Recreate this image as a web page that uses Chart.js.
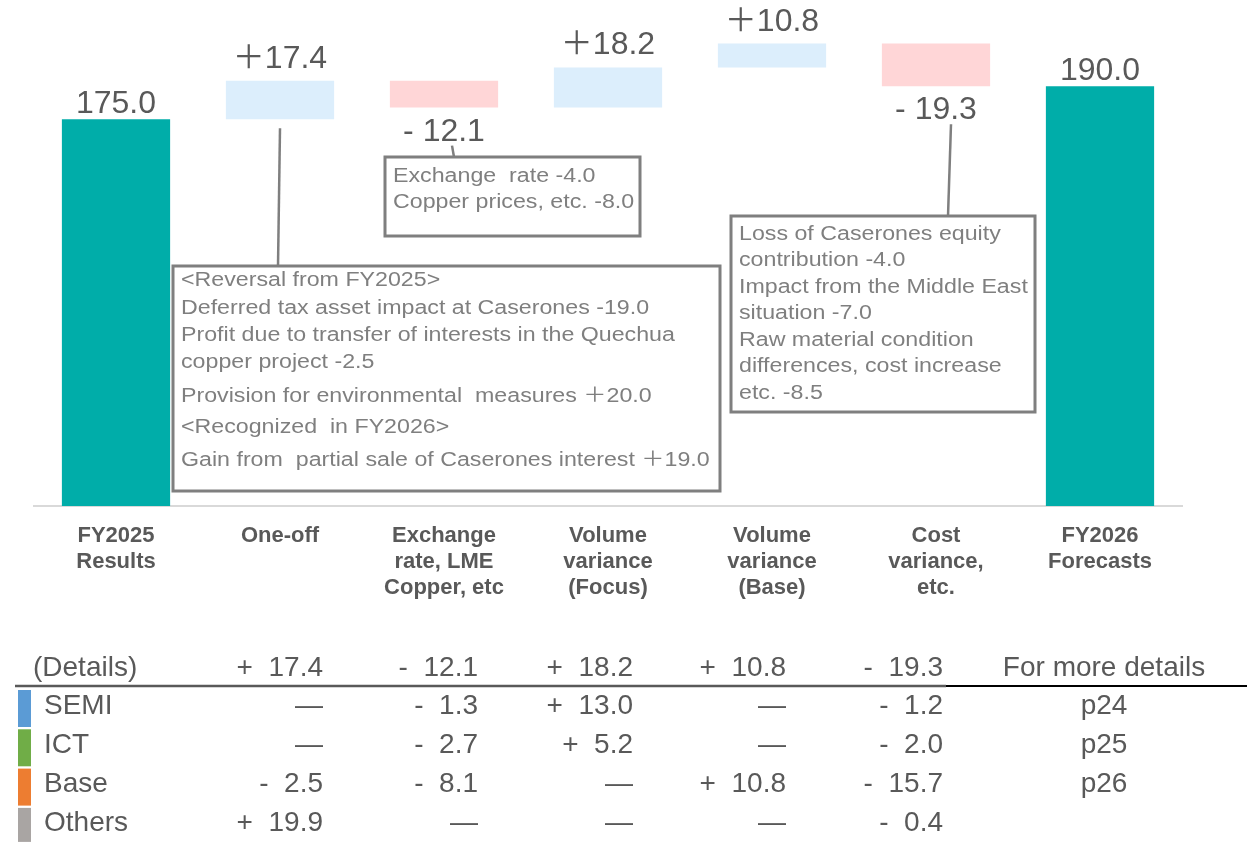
<!DOCTYPE html>
<html>
<head>
<meta charset="utf-8">
<script src="https://cdn.jsdelivr.net/npm/chart.js@4/dist/chart.umd.min.js"></script>
<style>
  html, body { margin: 0; padding: 0; background: #ffffff; }
  canvas { display: block; }
</style>
</head>
<body>
<canvas id="bridge" width="1247" height="842"></canvas>
<script>
// Operating profit bridge, FY2025 results -> FY2026 forecasts
const categories = [
  ["FY2025", "Results"],
  ["One-off"],
  ["Exchange", "rate, LME", "Copper, etc"],
  ["Volume", "variance", "(Focus)"],
  ["Volume", "variance", "(Base)"],
  ["Cost", "variance,", "etc."],
  ["FY2026", "Forecasts"]
];
const values  = [175.0, 17.4, -12.1, 18.2, 10.8, -19.3, 190.0];
const isTotal = [true, false, false, false, false, false, true];

// Breakdown of each variance by segment (columns: the five variance steps)
const segments     = ["SEMI", "ICT", "Base", "Others"];
const semiDetail   = [null, -1.3, 13.0, null, -1.2];
const ictDetail    = [null, -2.7, 5.2, null, -2.0];
const baseDetail   = [-2.5, -8.1, null, 10.8, -15.7];
const othersDetail = [19.9, null, null, null, -0.4];
const detailPages  = ["p24", "p25", "p26", ""];

// Callout notes
const oneOffNotes = [
  "<Reversal from FY2025>",
  "Deferred tax asset impact at Caserones -19.0",
  "Profit due to transfer of interests in the Quechua",
  "copper project -2.5",
  "Provision for environmental  measures \uFF0B20.0",
  "<Recognized  in FY2026>",
  "Gain from  partial sale of Caserones interest \uFF0B19.0"
];
const exchangeNotes = [
  "Exchange  rate -4.0",
  "Copper prices, etc. -8.0"
];
const costNotes = [
  "Loss of Caserones equity",
  "contribution -4.0",
  "Impact from the Middle East",
  "situation -7.0",
  "Raw material condition",
  "differences, cost increase",
  "etc. -8.5"
];

// ---- derived: floating ranges for the waterfall ----
const ranges = [];
let running = 0;
values.forEach((v, i) => {
  if (isTotal[i]) { ranges.push([0, v]); running = v; }
  else { const start = running; running = +(running + v).toFixed(1); ranges.push([start, running]); }
});

const FONT = "'Liberation Sans', Arial, 'Noto Sans CJK JP', sans-serif";
const TEXT = '#595959';
const NOTE = '#7F7F7F';
const barColors = values.map((v, i) => isTotal[i] ? '#00ADA9' : (v >= 0 ? '#DCEEFC' : '#FFD6D7'));
const segmentColors = ['#5B9BD5', '#70AD47', '#ED7D31', '#A9A5A3'];

function signed(v) {
  return (v >= 0 ? '+' : '-') + '  ' + Math.abs(v).toFixed(1);
}

// text drawn with a slight horizontal stretch (callout typeface is set wide)
function wideText(ctx, text, x, y, sx) {
  ctx.save();
  ctx.translate(x, y);
  ctx.scale(sx, 1);
  ctx.fillText(text, 0, 0);
  ctx.restore();
}

const callouts = [
  { index: 1, notes: oneOffNotes,   box: [173, 266, 720, 491], lines: [20, 48, 75, 102, 136, 167, 200], from: 'under-bar', dx0: 0,  dx1: -2 },
  { index: 2, notes: exchangeNotes, box: [385, 157, 640, 236], lines: [25, 51],                          from: 'under-label', dx0: 8, dx1: 10 },
  { index: 5, notes: costNotes,     box: [731, 216, 1035, 412], lines: [24, 50, 77, 103, 130, 156, 183], from: 'under-label', dx0: 15, dx1: 12 }
];

const bridgeDecor = {
  id: 'bridgeDecor',
  afterDatasetsDraw(chart) {
    const ctx = chart.ctx;
    const bars = chart.getDatasetMeta(0).data;
    ctx.save();

    // value labels
    ctx.font = `32px ${FONT}`;
    ctx.fillStyle = TEXT;
    ctx.textAlign = 'center';
    ctx.textBaseline = 'alphabetic';
    bars.forEach((bar, i) => {
      const top = Math.min(bar.y, bar.base), bottom = Math.max(bar.y, bar.base);
      const v = values[i];
      if (isTotal[i]) ctx.fillText(v.toFixed(1), bar.x, top - 6);
      else if (v >= 0) ctx.fillText('\uFF0B' + v.toFixed(1), bar.x, top - 13);
      else ctx.fillText('- ' + Math.abs(v).toFixed(1), bar.x, bottom + 33);
    });

    // callout boxes with leader lines
    callouts.forEach(c => {
      const bar = bars[c.index];
      const bottom = Math.max(bar.y, bar.base);
      const [l, t, r, b] = c.box;
      const y0 = c.from === 'under-bar' ? bottom + 9 : bottom + 38;
      ctx.strokeStyle = NOTE;
      ctx.lineWidth = 2.5;
      ctx.beginPath();
      ctx.moveTo(bar.x + c.dx0, y0);
      ctx.lineTo(bar.x + c.dx1, t);
      ctx.stroke();
      ctx.lineWidth = 3;
      ctx.strokeRect(l, t, r - l, b - t);
      ctx.fillStyle = NOTE;
      ctx.font = `20px ${FONT}`;
      ctx.textAlign = 'left';
      c.notes.forEach((line, k) => wideText(ctx, line, l + 8, t + c.lines[k], 1.16));
    });
    ctx.restore();
  },
  afterDraw(chart) {
    const ctx = chart.ctx;
    ctx.save();
    const colRight = [323, 478, 633, 786, 943];
    const pageCenter = 1104;
    const rowY = [668, 706, 745, 784, 823];
    ctx.font = `28px ${FONT}`;
    ctx.fillStyle = TEXT;
    ctx.textBaseline = 'middle';

    // header row
    ctx.textAlign = 'left';
    ctx.fillText('(Details)', 33, rowY[0]);
    ctx.textAlign = 'right';
    values.slice(1, 6).forEach((v, k) => ctx.fillText(signed(v), colRight[k], rowY[0]));
    ctx.textAlign = 'center';
    ctx.fillText('For more details', pageCenter, rowY[0]);

    // header rule
    ctx.lineWidth = 2.5;
    ctx.strokeStyle = '#595959';
    ctx.beginPath(); ctx.moveTo(15, 686); ctx.lineTo(946, 686); ctx.stroke();
    ctx.strokeStyle = '#000000';
    ctx.lineWidth = 2;
    ctx.beginPath(); ctx.moveTo(946, 686); ctx.lineTo(1247, 686); ctx.stroke();

    // segment rows
    const rows = [semiDetail, ictDetail, baseDetail, othersDetail];
    rows.forEach((row, r) => {
      const y = rowY[r + 1];
      ctx.fillStyle = segmentColors[r];
      ctx.fillRect(18, 690 + r * 39.3, 13, r === 3 ? 34 : 37);
      ctx.fillStyle = TEXT;
      ctx.textAlign = 'left';
      ctx.fillText(segments[r], 44, y);
      ctx.textAlign = 'right';
      row.forEach((v, k) => ctx.fillText(v === null ? '\u2014' : signed(v), colRight[k], y));
      ctx.textAlign = 'center';
      if (detailPages[r]) ctx.fillText(detailPages[r], pageCenter, y);
    });
    ctx.restore();
  }
};

new Chart(document.getElementById('bridge'), {
  type: 'bar',
  data: {
    labels: categories,
    datasets: [{
      data: ranges,
      backgroundColor: barColors,
      borderWidth: 0,
      barPercentage: 0.66,
      categoryPercentage: 1.0
    }]
  },
  options: {
    responsive: false,
    devicePixelRatio: 1,
    animation: false,
    layout: { padding: { left: 34, right: 65, top: 0, bottom: 0 } },
    plugins: { legend: { display: false }, tooltip: { enabled: false } },
    scales: {
      x: {
        grid: { display: true, drawOnChartArea: false, drawTicks: false },
        border: { display: true, color: '#D9D9D9', width: 2 },
        ticks: {
          color: TEXT,
          padding: 17,
          maxRotation: 0,
          autoSkip: false,
          font: { family: FONT, size: 22, weight: 'bold', lineHeight: 1.18 }
        },
        afterFit(scale) { scale.height = 336; }
      },
      y: { display: false, min: 0, max: 229 }
    }
  },
  plugins: [bridgeDecor]
});
</script>
</body>
</html>
